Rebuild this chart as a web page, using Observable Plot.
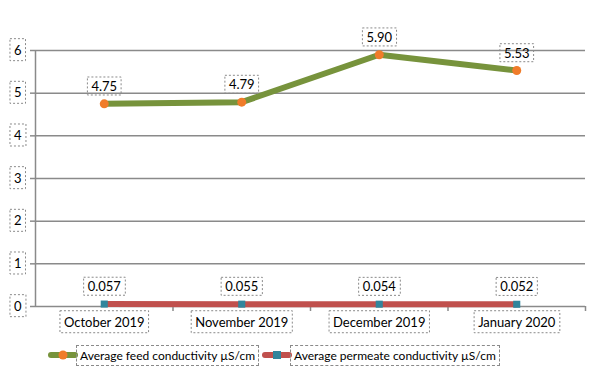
<!DOCTYPE html>
<html>
<head>
<meta charset="utf-8">
<script src="https://cdn.jsdelivr.net/npm/d3@7"></script>
<script src="https://cdn.jsdelivr.net/npm/@observablehq/plot@0.6"></script>
<style>
  body { margin: 0; background: #fff; font-family: Lato, "Open Sans", sans-serif; }
  #wrap { position: relative; width: 597px; height: 372px; }
  #legend { position: absolute; left: 0; top: 340px; width: 597px; height: 32px; font-size: 12px; color: #000; }
  .lg-item { position: absolute; top: 5px; height: 20px; display: flex; align-items: center; }
  .lg-text { border: 1px dashed #8a8a8a; padding: 2px 3px; line-height: 15px; }
</style>
</head>
<body>
<div id="wrap"></div>
<script>
const categories = ["October 2019", "November 2019", "December 2019", "January 2020"];
const feed = [4.75, 4.79, 5.90, 5.53];
const permeate = [0.057, 0.055, 0.054, 0.052];
const yTicks = [0, 1, 2, 3, 4, 5, 6];
const seriesNames = ["Average feed conductivity µS/cm", "Average permeate conductivity µS/cm"];

const green = "#77933c", orange = "#f07c2a", red = "#c0504d", teal = "#31859c", grid = "#8a8a8a";

const rows = categories.map((c, i) => ({i, c, feed: feed[i], perm: permeate[i]}));
const boundaries = categories.map((c, i) => i + 0.5);
const f2 = d3.format(".2f"), f3 = d3.format(".3f");

const chart = Plot.plot({
  width: 597,
  height: 340,
  marginLeft: 35,
  marginRight: 12,
  marginTop: 50,
  marginBottom: 34,
  style: {fontFamily: "Lato, 'Open Sans', sans-serif", color: "#000", background: "#fff", overflow: "visible"},
  x: {type: "linear", domain: [-0.5, categories.length - 0.5], axis: null},
  y: {domain: [0, 6], axis: null},
  marks: [
    Plot.gridY(yTicks, {stroke: grid, strokeOpacity: 1, strokeWidth: 1.5}),
    Plot.axisY(yTicks, {tickSize: 5, tickPadding: 9, stroke: grid, strokeWidth: 1.5, fontSize: 13, label: null, tickFormat: d => String(d)}),
    Plot.ruleX([-0.5], {stroke: grid, strokeWidth: 1.5}),
    Plot.axisX(boundaries, {tickSize: 5, stroke: grid, strokeWidth: 1.5, label: null, tickFormat: () => ""}),
    Plot.axisX(rows.map(d => d.i), {tickSize: 0, tickPadding: 11, fontSize: 13, label: null, tickFormat: i => categories[i]}),
    Plot.line(rows, {x: "i", y: "perm", stroke: red, strokeWidth: 6}),
    Plot.dot(rows, {x: "i", y: "perm", symbol: "square", fill: teal, r: 4}),
    Plot.line(rows, {x: "i", y: "feed", stroke: green, strokeWidth: 6, strokeLinejoin: "round"}),
    Plot.dot(rows, {x: "i", y: "feed", fill: orange, r: 4.5}),
    Plot.text(rows, {x: "i", y: "feed", text: d => f2(d.feed), dy: -17, fontSize: 13, ariaDescription: "data label"}),
    Plot.text(rows, {x: "i", y: "perm", text: d => f3(d.perm), dy: -17, fontSize: 13, ariaDescription: "data label"})
  ]
});

const wrap = document.getElementById("wrap");
wrap.appendChild(chart);

function boxTexts(selector, padX, padY) {
  d3.select(chart).selectAll(selector).each(function() {
    const t = this;
    if (!t.textContent) return;
    const b = t.getBBox();
    if (b.width === 0) return;
    const r = document.createElementNS("http://www.w3.org/2000/svg", "rect");
    r.setAttribute("x", b.x - padX);
    r.setAttribute("y", b.y - padY);
    r.setAttribute("width", b.width + 2 * padX);
    r.setAttribute("height", b.height + 2 * padY);
    r.setAttribute("fill", "none");
    r.setAttribute("stroke", grid);
    r.setAttribute("stroke-width", 1);
    r.setAttribute("stroke-dasharray", "2,2");
    const tr = t.getAttribute("transform");
    if (tr) r.setAttribute("transform", tr);
    t.parentNode.insertBefore(r, t);
  });
}
boxTexts('g[aria-label$="tick label"] text', 4, 3);
boxTexts('g[aria-description="data label"] text', 4, 1);

// legend
const legend = document.createElement("div");
legend.id = "legend";
const items = [
  {name: seriesNames[0], line: green, mark: orange, shape: "circle", left: 48},
  {name: seriesNames[1], line: red, mark: teal, shape: "square", left: 262}
];
items.forEach(it => {
  const el = document.createElement("div");
  el.className = "lg-item";
  el.style.left = it.left + "px";
  const markSvg = it.shape === "circle"
    ? `<circle cx="15" cy="6" r="4.5" fill="${it.mark}"/>`
    : `<rect x="11" y="2" width="8" height="8" fill="${it.mark}"/>`;
  el.innerHTML = `<svg width="30" height="12" style="margin-right:-2px"><line x1="3" x2="27" y1="6" y2="6" stroke="${it.line}" stroke-width="6" stroke-linecap="round"/>${markSvg}</svg><span class="lg-text">${it.name}</span>`;
  legend.appendChild(el);
});
wrap.appendChild(legend);
</script>
</body>
</html>
